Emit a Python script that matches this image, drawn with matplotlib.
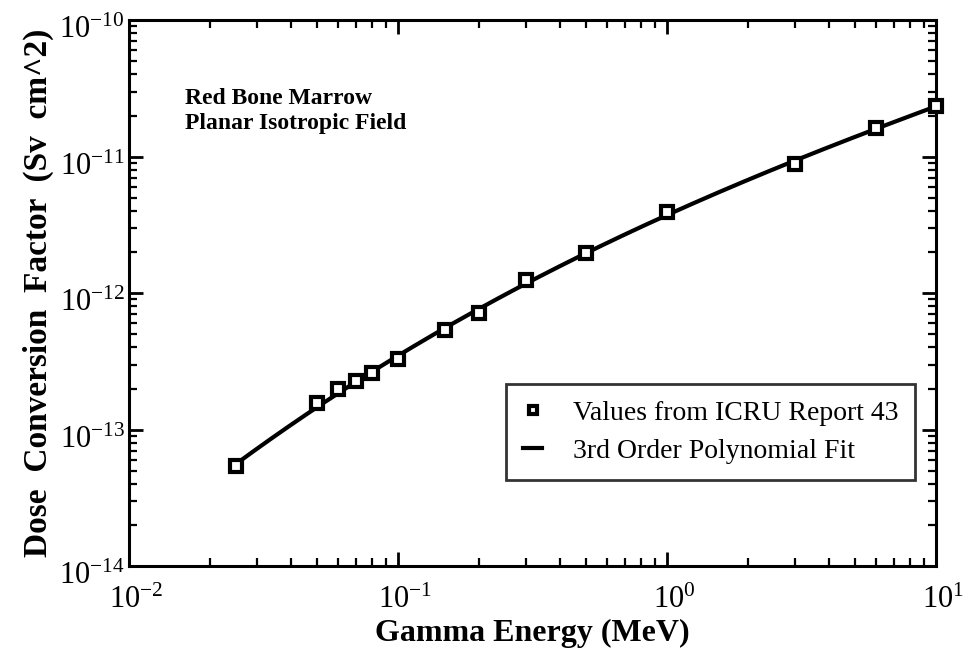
import numpy as np
import matplotlib
matplotlib.use('Agg')
import matplotlib.pyplot as plt
import matplotlib.transforms as mtransforms

plt.rcParams['font.family'] = ['Liberation Serif', 'DejaVu Serif']
plt.rcParams['mathtext.fontset'] = 'custom'
plt.rcParams['mathtext.rm'] = 'Liberation Serif'
plt.rcParams['mathtext.it'] = 'Liberation Serif:italic'
plt.rcParams['mathtext.bf'] = 'Liberation Serif:bold'

# ICRU 43 values, red bone marrow, planar isotropic field
energy = [0.025, 0.05, 0.06, 0.07, 0.08, 0.1, 0.15, 0.2, 0.3, 0.5, 1.0, 3.0, 6.0, 10.0]
dcf = [5.4e-14, 1.56e-13, 1.97e-13, 2.28e-13, 2.6e-13, 3.27e-13, 5.4e-13,
       7.2e-13, 1.24e-12, 1.97e-12, 3.95e-12, 8.9e-12, 1.63e-11, 2.34e-11]

xlabel = 'Gamma Energy (MeV)'
ylabel = 'Dose  Conversion  Factor  (Sv  cm^2)'
note = 'Red Bone Marrow\nPlanar Isotropic Field'
lab_pts = 'Values from ICRU Report 43'
lab_fit = '3rd Order Polynomial Fit'

# 3rd order polynomial in log-log space
coef = np.polyfit(np.log10(energy), np.log10(dcf), 3)
xe = np.logspace(np.log10(energy[0]), np.log10(energy[-1]), 200)
ye = 10 ** np.polyval(coef, np.log10(xe))

fig = plt.figure(figsize=(9.66, 6.5), dpi=100)
ax = fig.add_axes([0.1335, 0.129, 0.8355, 0.840])

ax.plot(xe, ye, 'k-', lw=3, label=lab_fit, zorder=2)
ax.plot(energy, dcf, 's', ms=9, mfc='white', mec='black', mew=3,
        label=lab_pts, zorder=3, clip_on=False)

ax.set_xscale('log')
ax.set_yscale('log')
ax.set_xlim(1e-2, 1e1)
ax.set_ylim(1e-14, 1e-10)

ax.set_xticks([1e-2, 1e-1, 1e0, 1e1])
ax.set_xticklabels([r'$10^{-2}$', r'$10^{-1}$', r'$10^{0}$', r'$10^{1}$'])
ax.set_yticks([1e-14, 1e-13, 1e-12, 1e-11, 1e-10])
ax.set_yticklabels([r'$10^{-14}$', r'$10^{-13}$', r'$10^{-12}$', r'$10^{-11}$', r'$10^{-10}$'])

for s in ax.spines.values():
    s.set_linewidth(2.2)
ax.tick_params(which='both', direction='in', top=True, right=True, color='black')
ax.tick_params(which='major', length=10, width=2)
ax.tick_params(which='minor', length=6, width=1.6)
ax.tick_params(axis='x', which='major', labelsize=22, pad=14)
ax.tick_params(axis='y', which='major', labelsize=22, pad=3)

# y labels sit a little below their tick, x labels a little to the right
yoff = mtransforms.ScaledTranslation(0, -7 / 100, fig.dpi_scale_trans)
for t in ax.get_yticklabels():
    t.set_transform(t.get_transform() + yoff)
xoff = mtransforms.ScaledTranslation(7 / 100, 0, fig.dpi_scale_trans)
for t in ax.get_xticklabels():
    t.set_transform(t.get_transform() + xoff)

ax.set_xlabel(xlabel, fontsize=23, fontweight='bold', labelpad=3)
ax.set_ylabel(ylabel, fontsize=24, fontweight='bold', labelpad=4)

ax.text(0.07, 0.875, note, transform=ax.transAxes, fontsize=17,
        fontweight='bold', va='top', ha='left', linespacing=1.2)

h, l = ax.get_legend_handles_labels()
leg = ax.legend(h[::-1], l[::-1], loc='lower right',
                bbox_to_anchor=(0.974, 0.157), borderaxespad=0,
                fontsize=20, frameon=True,
                fancybox=False, edgecolor='black', handlelength=0.7,
                handletextpad=1.1, borderpad=0.6, labelspacing=0.45,
                markerscale=0.7)
leg.get_frame().set_linewidth(2)

fig.savefig('out.png', dpi=100)
